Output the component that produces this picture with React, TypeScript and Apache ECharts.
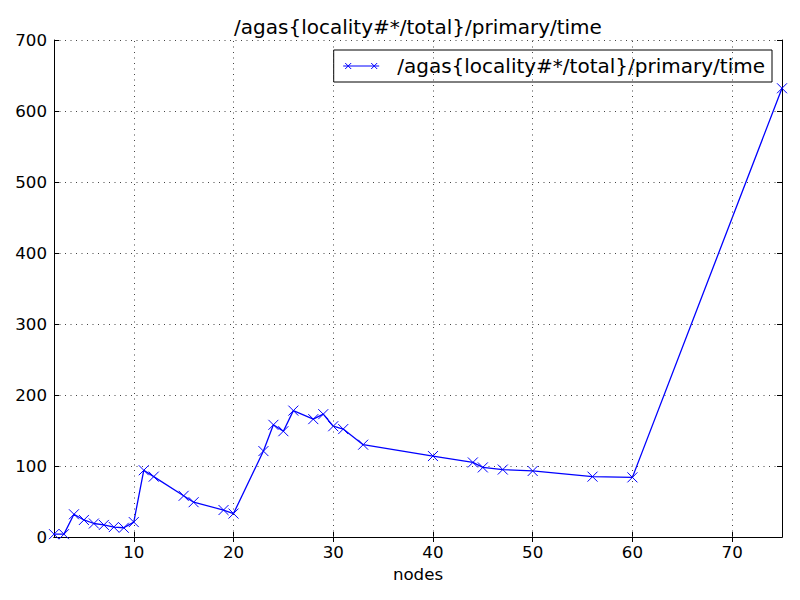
import React, { useEffect, useRef } from "react";
import * as echarts from "echarts";

const titleText = "/agas{locality#*/total}/primary/time";
const xName = "nodes";
const nodes = [2, 3, 4, 5, 6, 7, 8, 9, 10, 11, 12, 15, 16, 19, 20, 23, 24, 25, 26, 28, 29, 30, 31, 33, 40, 44, 45, 47, 50, 56, 60, 75];
const times = [4, 4, 32, 24, 19, 17, 14, 13, 21, 94, 85, 58, 49, 38, 33, 121, 158, 149, 178, 166, 173, 156, 152, 130, 114, 105, 98, 95, 93, 85, 84, 632];
const xTicks = [10, 20, 30, 40, 50, 60, 70];
const xMin = 2;
const xMax = 75;
const yMin = 0;
const yMax = 700;
const yStep = 100;

const FONT = "DejaVu Sans";
const BLUE = "#0000ff";
const GRID_LINE = { color: "#444", width: 1, type: [1, 4.5] };

export default function App() {
  const ref = useRef<HTMLDivElement>(null);
  useEffect(() => {
    const chart = echarts.init(ref.current!, null, { renderer: "svg" });
    const tickStyle = { color: "#000", width: 1 };
    const labelStyle = { color: "#000", fontSize: 16.67, fontFamily: FONT };
    chart.setOption({
      animation: false,
      backgroundColor: "#fff",
      grid: { left: 54, top: 40, right: 18, bottom: 63, containLabel: false },
      graphic: [
        {
          type: "text",
          x: 418,
          y: 27,
          style: {
            text: titleText,
            fontSize: 20,
            fontFamily: FONT,
            fill: "#000",
            align: "center",
            verticalAlign: "middle",
          },
        },
      ],
      legend: {
        data: [
          {
            name: titleText,
            icon: "path://M0,3L36,3M2,0L8,6M8,0L2,6M28,0L34,6M34,0L28,6",
          },
        ],
        right: 28,
        top: 50,
        orient: "vertical",
        backgroundColor: "#fff",
        borderColor: "#000",
        borderWidth: 1,
        borderRadius: 0,
        padding: [6, 7, 6, 9],
        itemWidth: 36,
        itemHeight: 6,
        itemStyle: { color: BLUE, borderColor: BLUE, borderWidth: 1 },
        textStyle: { color: "#000", fontSize: 20, fontFamily: FONT, padding: [0, 0, 0, 13] },
      },
      xAxis: [
        {
          type: "value",
          min: xMin,
          max: xMax,
          position: "bottom",
          name: xName,
          nameLocation: "middle",
          nameGap: 29,
          nameTextStyle: labelStyle,
          axisLine: { show: true, lineStyle: tickStyle },
          axisTick: { show: true, inside: true, length: 5, customValues: xTicks, lineStyle: tickStyle },
          axisLabel: { show: true, customValues: xTicks, margin: 7, ...labelStyle },
          splitLine: { show: false },
        },
        {
          type: "value",
          min: xMin,
          max: xMax,
          position: "top",
          axisLine: { show: true, lineStyle: tickStyle },
          axisTick: { show: true, inside: true, length: 5, customValues: xTicks, lineStyle: tickStyle },
          axisLabel: { show: false },
          splitLine: { show: false },
        },
      ],
      yAxis: [
        {
          type: "value",
          min: yMin,
          max: yMax,
          interval: yStep,
          position: "left",
          axisLine: { show: true, lineStyle: tickStyle },
          axisTick: { show: true, inside: true, length: 5, lineStyle: tickStyle },
          axisLabel: { show: true, margin: 7, ...labelStyle },
          splitLine: { show: true, lineStyle: GRID_LINE },
        },
        {
          type: "value",
          min: yMin,
          max: yMax,
          interval: yStep,
          position: "right",
          axisLine: { show: true, lineStyle: tickStyle },
          axisTick: { show: true, inside: true, length: 5, lineStyle: tickStyle },
          axisLabel: { show: false },
          splitLine: { show: false },
        },
      ],
      series: [
        {
          name: titleText,
          type: "line",
          xAxisIndex: 0,
          yAxisIndex: 0,
          data: nodes.map((n, i) => [n, times[i]]),
          symbol: "path://M0,0L10,10M10,0L0,10",
          symbolSize: 10,
          showAllSymbol: true,
          itemStyle: { color: BLUE, borderColor: BLUE, borderWidth: 1 },
          lineStyle: { color: BLUE, width: 1.3 },
          markLine: {
            silent: true,
            symbol: ["none", "none"],
            label: { show: false },
            lineStyle: GRID_LINE,
            data: xTicks.map((v) => ({ xAxis: v })),
          },
        },
      ],
    });
    return () => chart.dispose();
  }, []);
  return <div ref={ref} style={{ position: "absolute", left: 0, top: 0, width: 800, height: 600 }} />;
}
